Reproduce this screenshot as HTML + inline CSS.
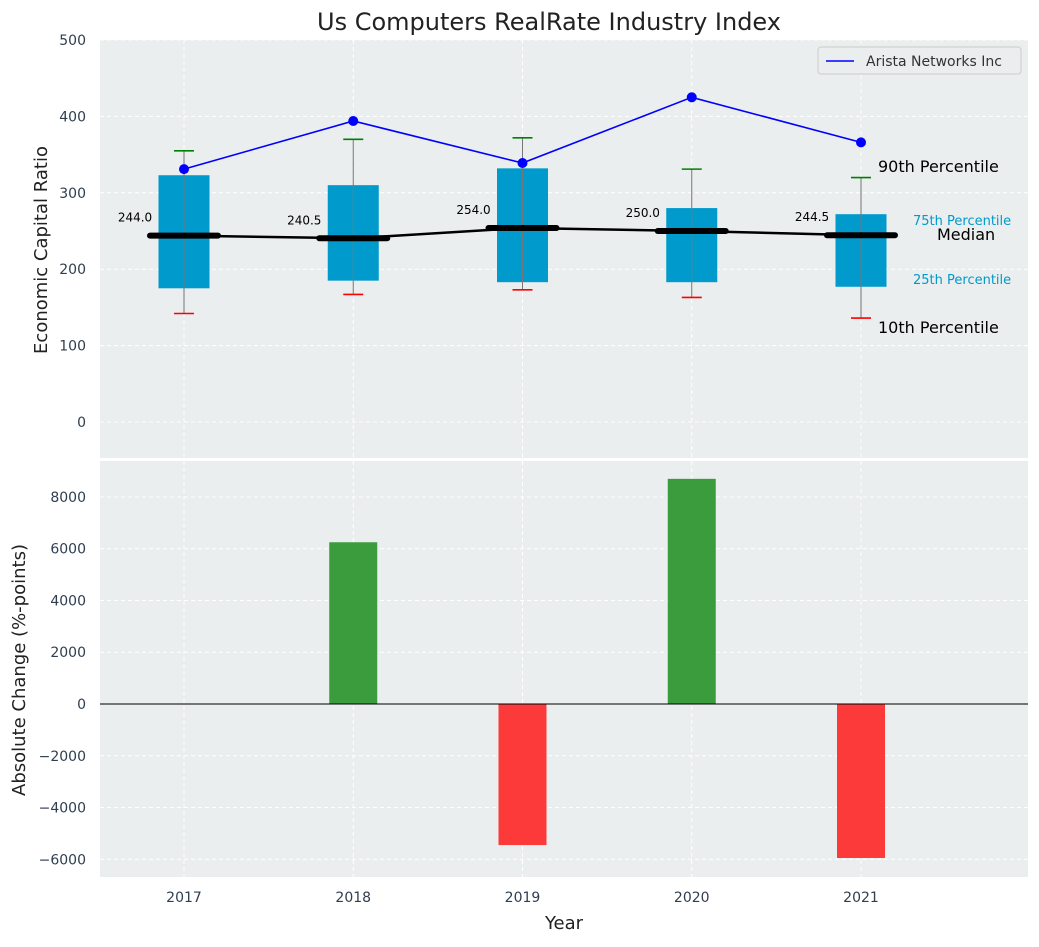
<!DOCTYPE html>
<html><head><meta charset="utf-8"><style>
body{margin:0;background:#fff;font-family:"Liberation Sans","DejaVu Sans",sans-serif}
svg text{font-family:"DejaVu Sans","Liberation Sans",sans-serif}
</style></head><body>
<svg id="c" width="1039" height="942" xmlns="http://www.w3.org/2000/svg"></svg>
<script>
const years=[2017,2018,2019,2020,2021];
const q1=[175,185,183,183,177];
const q3=[323,310,332,280,272];
const med=[244,240.5,254,250,244.5];
const p10=[142,167,173,163,136];
const p90=[355,370,372,331,320];
const arista=[331,394,339,425,366];
const change=[0,6250,-5450,8700,-5950];
const topTicks=[0,100,200,300,400,500];
const botTicks=[-6000,-4000,-2000,0,2000,4000,6000,8000];
const S=document.getElementById('c');const NS='http://www.w3.org/2000/svg';
function el(t,a,txt){const e=document.createElementNS(NS,t);for(const k in a)e.setAttribute(k,a[k]);if(txt!==undefined)e.textContent=txt;S.appendChild(e);return e;}
const X=v=>184+(v-2017)*169.25;
const Y1=v=>422-v*0.764;
const Y2=v=>704-v*0.02588;
let e;
e=el('rect',{x:100,y:40,width:928,height:418,fill:'#eaeeee'});

e=el('rect',{x:100,y:461,width:928,height:416,fill:'#eaeeee'});

topTicks.forEach(t=>{const y=Y1(t);
 e=el('line',{x1:100,x2:1028,y1:y,y2:y,stroke:'#fff','stroke-dasharray':'4,3','stroke-width':1});
 
 e=el('text',{x:86,y:y+5,'text-anchor':'end','font-size':14,fill:'#2f3e50'},t);
 });
botTicks.forEach(t=>{const y=Y2(t);
 e=el('line',{x1:100,x2:1028,y1:y,y2:y,stroke:'#fff','stroke-dasharray':'4,3','stroke-width':1});
 
 e=el('text',{x:86,y:y+5,'text-anchor':'end','font-size':14,fill:'#2f3e50'},String(t).replace('-','\u2212'));
 });
years.forEach(yr=>{const x=X(yr);
 [[40,458],[461,877]].forEach(r=>{e=el('line',{x1:x,x2:x,y1:r[0],y2:r[1],stroke:'#fff','stroke-dasharray':'4,3'});
 });
 e=el('text',{x:x,y:902,'text-anchor':'middle','font-size':14,fill:'#2f3e50'},yr);
 });
// boxes
years.forEach((yr,i)=>{const x=X(yr);
 e=el('rect',{x:x-25.5,y:Y1(q3[i]),width:51,height:Y1(q1[i])-Y1(q3[i]),fill:'#009acd'});
 
 e=el('line',{x1:x,x2:x,y1:Y1(p10[i]),y2:Y1(p90[i]),stroke:'#777','stroke-width':1});
 
 e=el('line',{x1:x-10,x2:x+10,y1:Y1(p90[i]),y2:Y1(p90[i]),stroke:'green','stroke-width':1.6});
 
 e=el('line',{x1:x-10,x2:x+10,y1:Y1(p10[i]),y2:Y1(p10[i]),stroke:'red','stroke-width':1.6});
 
 e=el('line',{x1:x-34,x2:x+34,y1:Y1(med[i]),y2:Y1(med[i]),stroke:'#000','stroke-width':6,'stroke-linecap':'round'});
 
 e=el('text',{x:x-49,y:Y1(med[i])-14,'text-anchor':'middle','font-size':12,fill:'#000'},med[i].toFixed(1));
 });
e=el('polyline',{points:years.map((y,i)=>X(y)+','+Y1(med[i])).join(' '),fill:'none',stroke:'#000','stroke-width':2.5});

e=el('polyline',{points:years.map((y,i)=>X(y)+','+Y1(arista[i])).join(' '),fill:'none',stroke:'blue','stroke-width':1.6});

years.forEach((y,i)=>{e=el('circle',{cx:X(y),cy:Y1(arista[i]),r:5,fill:'blue'});
 });
// annotations
[[878,172,'90th Percentile',16,'#000'],[913,225,'75th Percentile',13,'#009acd'],[937,240,'Median',16,'#000'],[913,284,'25th Percentile',13,'#009acd'],[878,333,'10th Percentile',16,'#000']].forEach(a=>{
 e=el('text',{x:a[0],y:a[1],'font-size':a[3],fill:a[4]},a[2]);
 });
// legend
e=el('rect',{x:818,y:47,width:203,height:27,fill:'#eaeeee',stroke:'#ccc',rx:3});

e=el('line',{x1:826,x2:854,y1:61,y2:61,stroke:'blue','stroke-width':1.6});

e=el('text',{x:866,y:66,'font-size':14,fill:'#333'},'Arista Networks Inc');

// bars
years.forEach((yr,i)=>{const x=X(yr);const v=change[i];if(v===0)return;
 e=el('rect',{x:x-24,y:Math.min(Y2(v),Y2(0)),width:48,height:Math.abs(Y2(v)-Y2(0)),fill:v>0?'#3a9c3d':'#fd3a3a'});
 });
e=el('line',{x1:100,x2:1028,y1:Y2(0),y2:Y2(0),stroke:'#000','stroke-width':1});

// titles
e=el('text',{x:549,y:30,'text-anchor':'middle','font-size':24,fill:'#222'},'Us Computers RealRate Industry Index');

e=el('text',{x:564,y:929,'text-anchor':'middle','font-size':18,fill:'#222'},'Year');

e=el('text',{x:47,y:250,'text-anchor':'middle','font-size':18,fill:'#222',transform:'rotate(-90 47 250)'},'Economic Capital Ratio');

e=el('text',{x:25,y:670,'text-anchor':'middle','font-size':18,fill:'#222',transform:'rotate(-90 25 670)'},'Absolute Change (%-points)');

</script>
</body></html>
